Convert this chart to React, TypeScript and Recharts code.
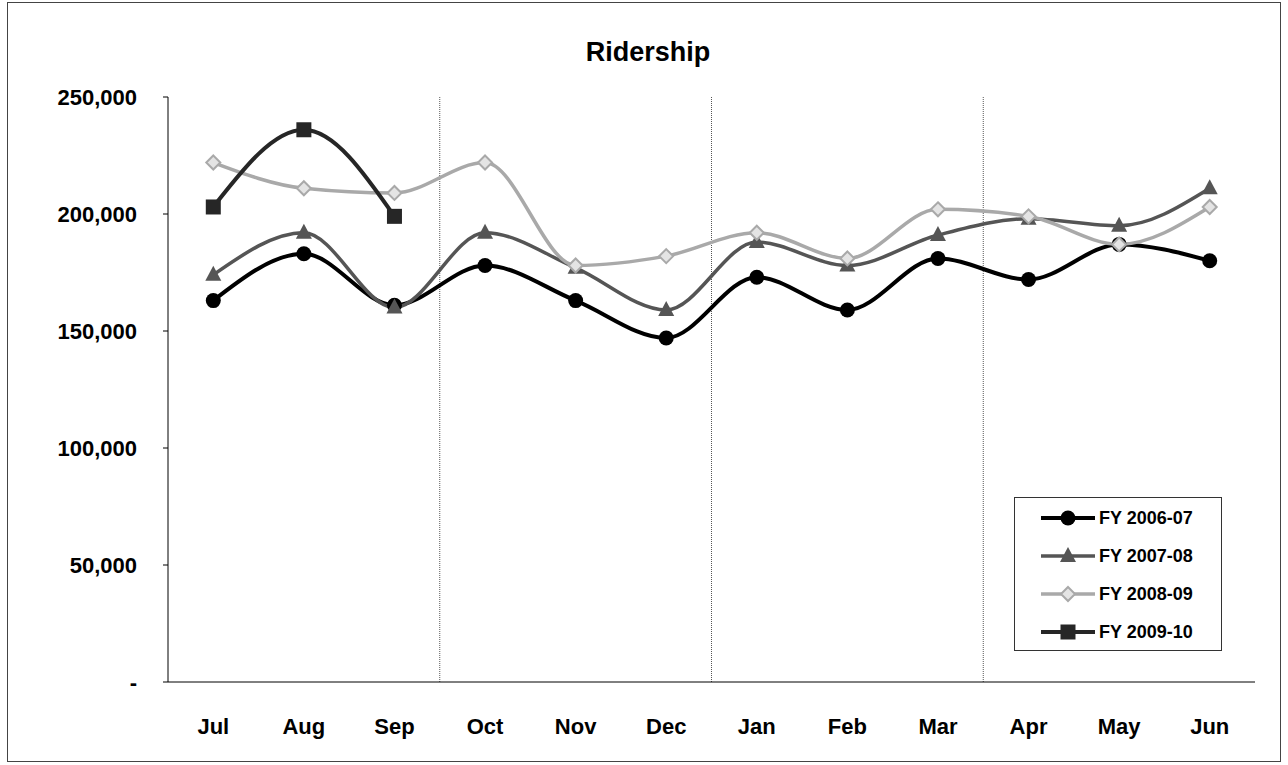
import React from 'react';
import { LineChart, Line, XAxis, YAxis, ReferenceLine } from 'recharts';

const months = ['Jul', 'Aug', 'Sep', 'Oct', 'Nov', 'Dec', 'Jan', 'Feb', 'Mar', 'Apr', 'May', 'Jun'];
const fy0607 = [163000, 183000, 161000, 178000, 163000, 147000, 173000, 159000, 181000, 172000, 187000, 180000];
const fy0708 = [174000, 192000, 160000, 192000, 177000, 159000, 188000, 178000, 191000, 198000, 195000, 211000];
const fy0809 = [222000, 211000, 209000, 222000, 178000, 182000, 192000, 181000, 202000, 199000, 187000, 203000];
const fy0910 = [203000, 236000, 199000];
const yTicks = [0, 50000, 100000, 150000, 200000, 250000];
const quarterBreaks = [3, 6, 9];

const FONT = '"Liberation Sans", Arial, sans-serif';

const data = months.map((m, i) => ({
  pos: i + 0.5,
  month: m,
  fy0607: fy0607[i],
  fy0708: fy0708[i],
  fy0809: fy0809[i],
  fy0910: i < fy0910.length ? fy0910[i] : null,
}));

type Shape = 'circle' | 'triangle' | 'diamond' | 'square';

const series: { key: string; name: string; color: string; width: number; shape: Shape }[] = [
  { key: 'fy0607', name: 'FY 2006-07', color: '#000000', width: 4, shape: 'circle' },
  { key: 'fy0708', name: 'FY 2007-08', color: '#555555', width: 3.5, shape: 'triangle' },
  { key: 'fy0809', name: 'FY 2008-09', color: '#a9a9a9', width: 3.5, shape: 'diamond' },
  { key: 'fy0910', name: 'FY 2009-10', color: '#262626', width: 4, shape: 'square' },
];

function Marker({ cx, cy, shape, color }: { cx: number; cy: number; shape: Shape; color: string }) {
  if (cx == null || cy == null || isNaN(cx) || isNaN(cy)) return null;
  if (shape === 'circle') return <circle cx={cx} cy={cy} r={7.5} fill={color} />;
  if (shape === 'triangle')
    return <polygon points={`${cx},${cy - 9} ${cx + 8},${cy + 6} ${cx - 8},${cy + 6}`} fill={color} />;
  if (shape === 'diamond')
    return (
      <polygon
        points={`${cx},${cy - 7} ${cx + 7},${cy} ${cx},${cy + 7} ${cx - 7},${cy}`}
        fill="#e4e4e4"
        stroke={color}
        strokeWidth={2}
      />
    );
  return <rect x={cx - 7.5} y={cy - 7.5} width={15} height={15} fill={color} />;
}

// legend drawn as a plain box over the plot, like the Excel one
function ChartLegend() {
  return (
    <div
      style={{
        position: 'absolute',
        left: 1014,
        top: 497,
        border: '1px solid #333',
        width: 208,
        height: 154,
        boxSizing: 'border-box',
        background: '#fff',
        paddingTop: 1,
      }}
    >
      {series.map((s) => (
        <div key={s.key} style={{ display: 'flex', alignItems: 'center', height: 38, paddingLeft: 24 }}>
          <svg width={58} height={20}>
            <line x1={2} y1={10} x2={56} y2={10} stroke={s.color} strokeWidth={s.width} />
            <Marker cx={29} cy={10} shape={s.shape} color={s.color} />
          </svg>
          <span style={{ fontFamily: FONT, fontWeight: 'bold', fontSize: 18, color: '#000', marginLeft: 2 }}>
            {s.name}
          </span>
        </div>
      ))}
    </div>
  );
}

export default function App() {
  return (
    <div style={{ position: 'absolute', left: 0, top: 0, width: 1288, height: 765, background: '#fff' }}>
      <div
        style={{
          position: 'absolute',
          left: 7,
          top: 2,
          width: 1274,
          height: 760,
          border: '1px solid #444',
          boxSizing: 'border-box',
        }}
      />
      <div
        style={{
          position: 'absolute',
          left: 0,
          top: 37,
          width: 1296,
          textAlign: 'center',
          fontFamily: FONT,
          fontWeight: 'bold',
          fontSize: 27,
          color: '#000',
        }}
      >
        Ridership
      </div>
      <div style={{ position: 'absolute', left: 0, top: 0 }}>
        <LineChart width={1288} height={765} data={data} margin={{ top: 97, right: 33, left: 8, bottom: 23 }}>
          <XAxis
            dataKey="pos"
            type="number"
            domain={[0, 12]}
            ticks={data.map((d) => d.pos)}
            tickFormatter={(v: number) => months[Math.floor(v)]}
            height={60}
            tickLine={false}
            tickMargin={30}
            axisLine={{ stroke: '#000', strokeWidth: 1 }}
            tick={{ fontFamily: FONT, fontWeight: 'bold', fontSize: 22, fill: '#000' }}
          />
          <YAxis
            domain={[0, 250000]}
            ticks={yTicks}
            width={160}
            tickSize={5}
            tickMargin={26}
            tickFormatter={(v: number) => (v === 0 ? '-' : v.toLocaleString('en-US'))}
            axisLine={{ stroke: '#000', strokeWidth: 1 }}
            tickLine={{ stroke: '#000' }}
            tick={{ fontFamily: FONT, fontWeight: 'bold', fontSize: 22, fill: '#000' }}
          />
          {quarterBreaks.map((q) => (
            <ReferenceLine key={q} x={q} stroke="#555" strokeWidth={1} strokeDasharray="1 1" />
          ))}
          {series.map((s) => (
            <Line
              key={s.key}
              dataKey={s.key}
              name={s.name}
              type="monotone"
              stroke={s.color}
              strokeWidth={s.width}
              isAnimationActive={false}
              connectNulls={false}
              dot={(p: any) => <Marker key={`${s.key}-${p.index}`} cx={p.cx} cy={p.cy} shape={s.shape} color={s.color} />}
              activeDot={false}
            />
          ))}
        </LineChart>
      </div>
      <ChartLegend />
    </div>
  );
}
